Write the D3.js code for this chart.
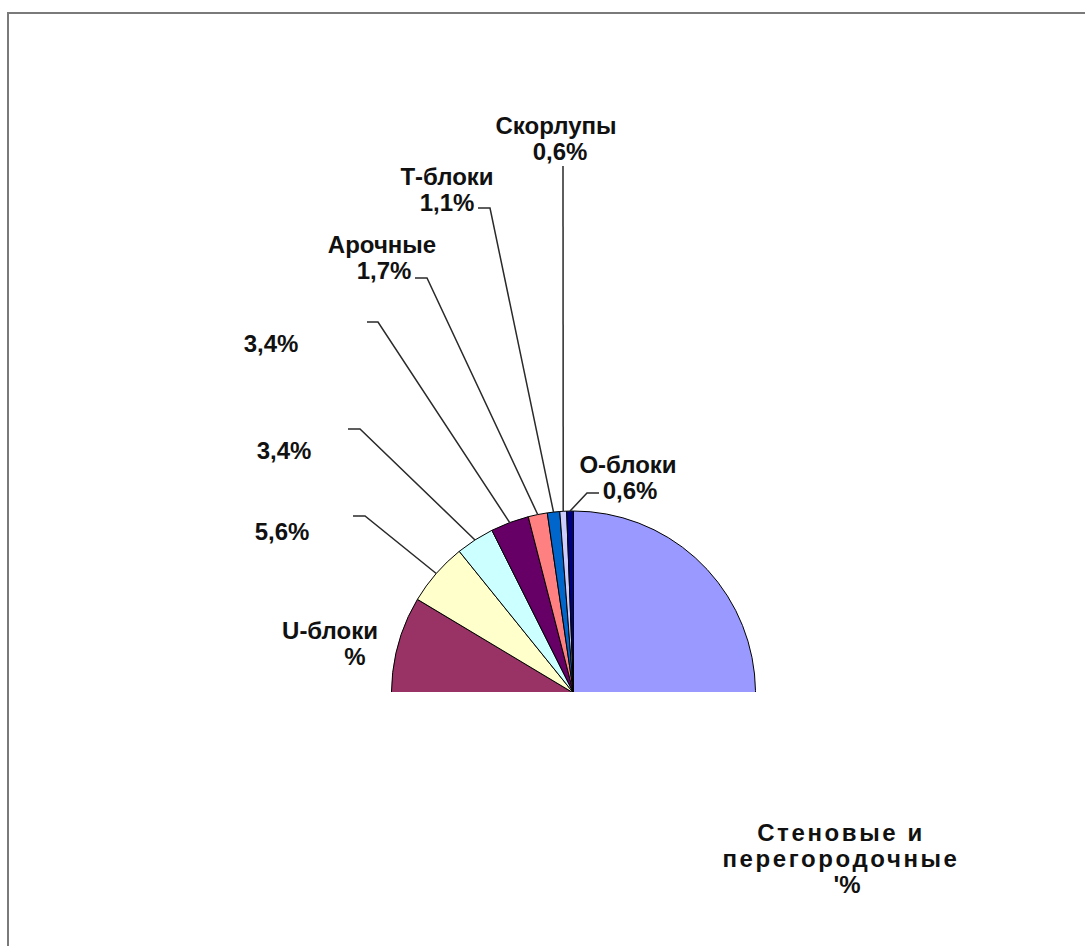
<!DOCTYPE html>
<html>
<head>
<meta charset="utf-8">
<script src="https://cdn.jsdelivr.net/npm/d3@7/dist/d3.min.js"></script>
<style>
  html, body { margin: 0; padding: 0; background: #fff; }
  svg { display: block; }
  text { font-family: "Liberation Sans", Arial, sans-serif; font-weight: bold; font-size: 24px; fill: #111; }
</style>
</head>
<body>
<div id="chart"></div>
<script>
// Slice data, in drawing order (clockwise from 12 o'clock)
const categories = ["Стеновые и перегородочные", "U-блоки", "", "", "", "Арочные", "Т-блоки", "Скорлупы", "О-блоки"];
const values = [70.0, 13.6, 5.6, 3.4, 3.4, 1.7, 1.1, 0.6, 0.6];
// Slices whose label shows only the percent sign, without the number
const valueHidden = [true, true, false, false, false, false, false, false, false];
const colors = ["#9999FF", "#993366", "#FFFFCC", "#CCFFFF", "#660066", "#FF8080", "#0066CC", "#CCCCFF", "#000080"];

// Label layout: text centre x, first baseline y, elbow of the leader line and where it meets the text
const labelLayout = [
  { x: 841, y: 841, lines: ["Стеновые и", "перегородочные"], pctPrefix: "'", pctDx: 6, spacing: 2.6 },
  { x: 330, y: 639, lines: ["U-блоки"], pctDx: 25 },
  { x: 282, y: 540, elbow: [365, 516], end: [353, 516] },
  { x: 284, y: 459, elbow: [360, 429], end: [348, 429] },
  { x: 271, y: 352, elbow: [378, 322], end: [367, 322] },
  { x: 382, y: 253, lines: ["Арочные"], pctDx: 2, elbow: [427, 278], end: [415, 278] },
  { x: 447, y: 185, lines: ["Т-блоки"], pctDx: 0, elbow: [490, 208], end: [478, 208] },
  { x: 556, y: 134, lines: ["Скорлупы"], pctDx: 4, elbow: [563, 166] },
  { x: 628, y: 473, lines: ["О-блоки"], pctDx: 2, elbow: [587, 493], end: [599, 493] }
];

const W = 1085, H = 946;
const cx = 573.5, cy = 693, R = 182;
const lineH = 26;

const svg = d3.select("#chart").append("svg")
  .attr("width", W).attr("height", H);

// Chart area frame (runs off the right and bottom edges)
svg.append("rect")
  .attr("x", 8).attr("y", 13)
  .attr("width", W + 20).attr("height", H + 20)
  .attr("fill", "#fff")
  .attr("stroke", "#7a7a7a")
  .attr("stroke-width", 2);

// Only the upper half of the pie is rendered
svg.append("clipPath").attr("id", "upper")
  .append("rect").attr("x", -cx).attr("y", -cy).attr("width", W).attr("height", cy - 1);

const pie = d3.pie().sort(null).value(d => d)
  .startAngle(0).endAngle(2 * Math.PI);
const arcs = pie(values);

const arc = d3.arc().innerRadius(0).outerRadius(R);
const edge = d3.arc().innerRadius(R).outerRadius(R);

const g = svg.append("g")
  .attr("transform", `translate(${cx},${cy})`)
  .attr("clip-path", "url(#upper)");

g.selectAll("path.slice")
  .data(arcs)
  .join("path")
  .attr("class", "slice")
  .attr("d", arc)
  .attr("fill", (d, i) => colors[i])
  .attr("stroke", "#000")
  .attr("stroke-width", 1);

const fmt = v => d3.format(".1f")(v).replace(".", ",") + "%";

// Leader lines
const leaders = svg.append("g");
arcs.forEach((d, i) => {
  const L = labelLayout[i];
  if (!L.elbow) return;
  const [px, py] = edge.centroid(d);
  const pts = [[cx + px, cy + py], L.elbow];
  if (L.end) pts.push(L.end);
  leaders.append("path")
    .attr("d", d3.line()(pts))
    .attr("fill", "none")
    .attr("stroke", "#2a2a2a")
    .attr("stroke-width", 1.5);
});

// Labels: category name lines followed by the percentage
const labels = svg.append("g");
arcs.forEach((d, i) => {
  const L = labelLayout[i];
  const names = L.lines || [];
  const t = labels.append("text")
    .attr("text-anchor", "middle");
  names.forEach((s, k) => {
    t.append("tspan")
      .attr("x", L.x)
      .attr("y", L.y + k * lineH)
      .attr("letter-spacing", L.spacing || 0)
      .text(s);
  });
  const pct = valueHidden[i] ? (L.pctPrefix || "") + "%" : fmt(values[i]);
  t.append("tspan")
    .attr("x", L.x + (L.pctDx || 0))
    .attr("y", L.y + names.length * lineH)
    .text(pct);
});
</script>
</body>
</html>
